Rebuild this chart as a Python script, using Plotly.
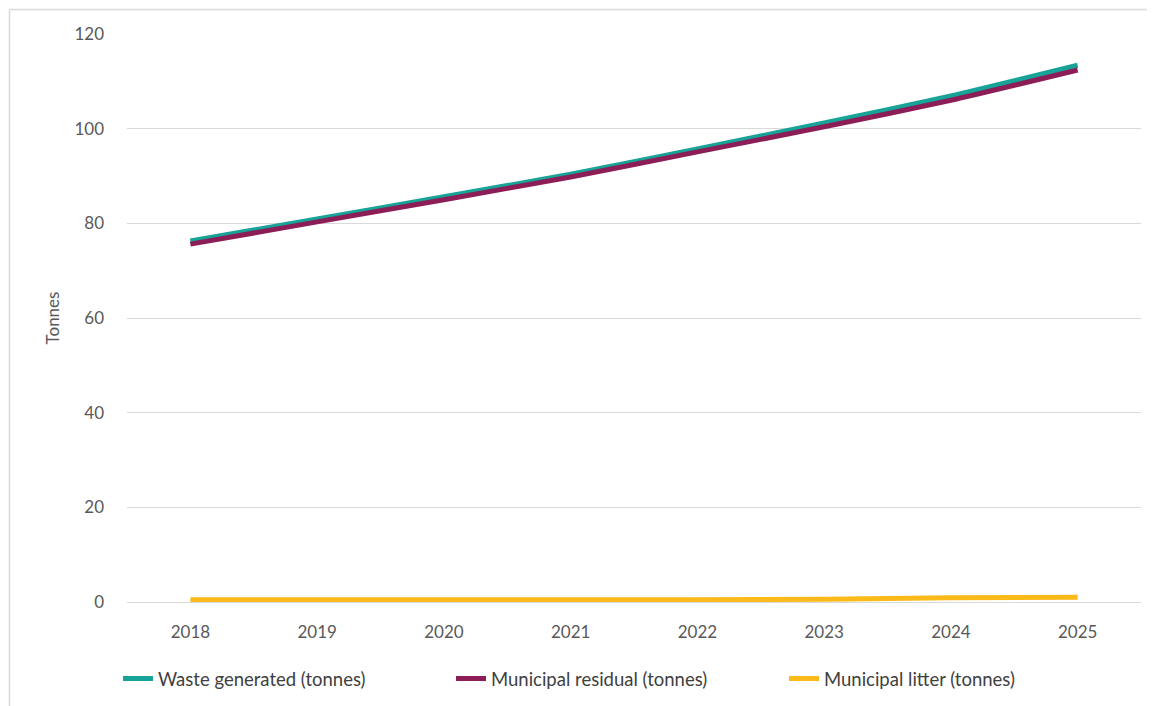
import plotly.graph_objects as go

years = ["2018", "2019", "2020", "2021", "2022", "2023", "2024", "2025"]
waste_generated = [76.3, 80.9, 85.6, 90.4, 95.7, 101.2, 106.9, 113.4]
municipal_residual = [75.6, 80.3, 85.0, 89.8, 95.1, 100.4, 106.0, 112.4]
municipal_litter = [0.5, 0.5, 0.5, 0.5, 0.5, 0.6, 0.9, 1.0]

series = [
    ("Waste generated (tonnes)", waste_generated, "#17A398"),
    ("Municipal residual (tonnes)", municipal_residual, "#8C1D56"),
    ("Municipal litter (tonnes)", municipal_litter, "#FBB91A"),
]

font_family = "Lato, 'Open Sans', sans-serif"
fig = go.Figure()
for name, vals, color in series:
    fig.add_trace(go.Scatter(
        x=years, y=vals, name=name, mode="lines",
        line=dict(color=color, width=5, shape="spline", smoothing=0.6),
    ))

# page body has an 8px default margin, so compensate
OFF = 8
W, H = 1155 - 2 * OFF, 706 - OFF
L, T = 127 - OFF, 34 - OFF
R = W - (1141 - OFF)
B = H - (602 - OFF)
pw, ph = W - L - R, H - T - B

def px_x(p):
    return (p - OFF - L) / pw

def px_y(p):
    return (H - B - (p - OFF)) / ph

border = dict(color="#D9D9D9", width=1.5)
fig.update_layout(
    width=W, height=H,
    margin=dict(l=L, r=R, t=T, b=B, autoexpand=False),
    paper_bgcolor="white", plot_bgcolor="white",
    font=dict(family=font_family, color="#595959", size=17),
    showlegend=True,
    legend=dict(orientation="h", x=(118 - OFF) / W, xanchor="left", xref="container",
                y=1 - (679 - OFF) / H, yanchor="middle", yref="container",
                font=dict(size=18.5, color="#404040"), bgcolor="rgba(0,0,0,0)",
                entrywidth=288, entrywidthmode="pixels",
                traceorder="normal"),
    xaxis=dict(type="category", range=[-0.5, 7.5], showgrid=False, showline=False, ticks="",
               automargin=False,
               tickfont=dict(size=17, color="#595959"), ticklabelstandoff=18),
    yaxis=dict(range=[0, 120], dtick=20, showgrid=True, gridcolor="#D9D9D9", gridwidth=1,
               zeroline=True, zerolinecolor="#D9D9D9", zerolinewidth=1, automargin=False,
               tickfont=dict(size=17, color="#595959"), ticklabelstandoff=22,
               title=dict(text="Tonnes", font=dict(size=17, color="#595959"), standoff=10)),
    shapes=[
        dict(type="line", xref="paper", yref="paper",
             x0=px_x(9.5), x1=px_x(1200), y0=px_y(9.5), y1=px_y(9.5), line=border, layer="below"),
        dict(type="line", xref="paper", yref="paper",
             x0=px_x(9.5), x1=px_x(9.5), y0=px_y(760), y1=px_y(9.5), line=border, layer="below"),
    ],
)

fig.write_html("out.html")
